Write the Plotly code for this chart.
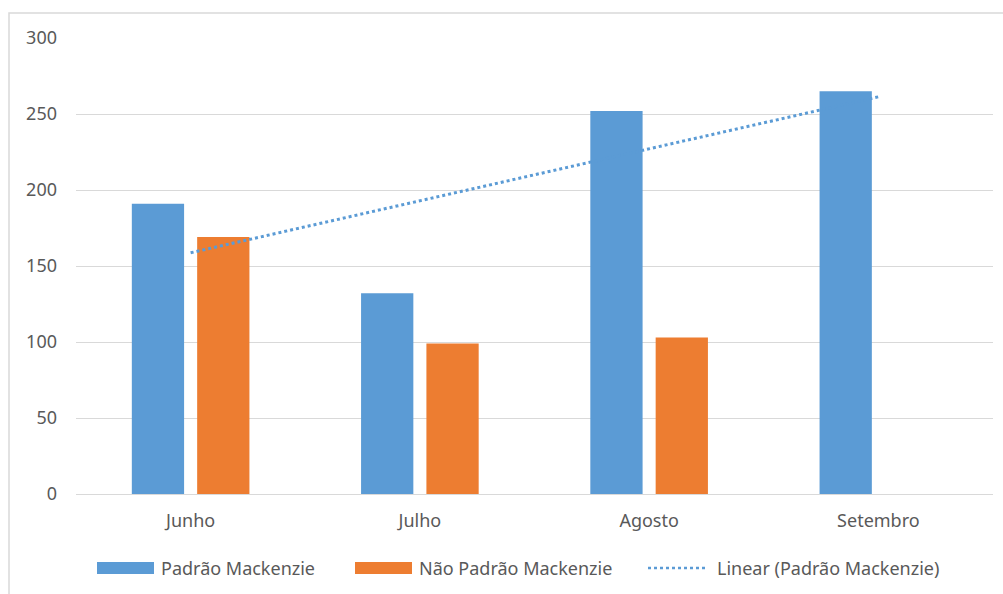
import numpy as np
import plotly.graph_objects as go

# Monthly counts
meses = ["Junho", "Julho", "Agosto", "Setembro"]
padrao = [191, 132, 252, 265]
nao_padrao = [169, 99, 103, None]

AZUL = "#5B9BD5"
LARANJA = "#ED7D31"
TEXTO = "#595959"
GRADE = "#D9D9D9"
FONTE = "Noto Sans"

# Linear trend of the "Padrão Mackenzie" series over the category index
idx = np.arange(len(meses))
coef = np.polyfit(idx, padrao, 1)
tendencia = np.polyval(coef, idx)

fig = go.Figure()
fig.add_trace(go.Bar(x=meses, y=padrao, name="Padrão Mackenzie",
                     marker=dict(color=AZUL, line=dict(width=0))))
fig.add_trace(go.Bar(x=meses, y=nao_padrao, name="Não Padrão Mackenzie",
                     marker=dict(color=LARANJA, line=dict(width=0))))
fig.add_trace(go.Scatter(x=meses, y=tendencia, mode="lines",
                         name="Linear (Padrão Mackenzie)",
                         line=dict(color=AZUL, width=3, dash="dot")))

W, H = 1003, 594
L, R, T, B = 76, 10, 38, 100
pw, ph = W - L - R, H - T - B

def px(x):
    return (x - L) / pw

def py(y):
    return (H - B - y) / ph

shapes = [
    # outer chart frame
    dict(type="rect", xref="paper", yref="paper",
         x0=px(9), x1=px(1010), y0=py(600), y1=py(13),
         line=dict(color=GRADE, width=1.5), fillcolor="rgba(0,0,0,0)", layer="below"),
]

# legend entries
leg_y = 568
itens = [
    ("rect", AZUL, 97, 154, "Padrão Mackenzie", 159),
    ("rect", LARANJA, 355, 412, "Não Padrão Mackenzie", 417),
    ("line", AZUL, 648, 708, "Linear (Padrão Mackenzie)", 715),
]
annotations = []
for kind, cor, x0, x1, texto, tx in itens:
    if kind == "rect":
        shapes.append(dict(type="rect", xref="paper", yref="paper",
                           x0=px(x0), x1=px(x1), y0=py(leg_y + 6), y1=py(leg_y - 6),
                           fillcolor=cor, line=dict(width=0)))
    else:
        shapes.append(dict(type="line", xref="paper", yref="paper",
                           x0=px(x0), x1=px(x1), y0=py(leg_y), y1=py(leg_y),
                           line=dict(color=cor, width=2.5, dash="dot")))
    annotations.append(dict(text=texto, xref="paper", yref="paper",
                            x=px(tx), y=py(leg_y), xanchor="left", yanchor="middle",
                            showarrow=False,
                            font=dict(family=FONTE, size=18, color=TEXTO)))

fig.update_layout(
    width=W, height=H,
    margin=dict(l=L, r=R, t=T, b=B),
    paper_bgcolor="white", plot_bgcolor="white",
    barmode="group", bargap=0.43, bargroupgap=0.2,
    showlegend=False,
    font=dict(family=FONTE, size=18, color=TEXTO),
    shapes=shapes, annotations=annotations,
    xaxis=dict(showgrid=False, showline=False, zeroline=False, ticks="",
               ticklabelstandoff=14,
               tickfont=dict(family=FONTE, size=18, color=TEXTO)),
    yaxis=dict(range=[0, 300], dtick=50, showgrid=True, gridcolor=GRADE,
               gridwidth=1, zeroline=True, zerolinecolor=GRADE, zerolinewidth=1,
               showline=False, ticks="", ticklabelstandoff=18,
               tickfont=dict(family=FONTE, size=18, color=TEXTO)),
)

fig.write_html("out.html")
